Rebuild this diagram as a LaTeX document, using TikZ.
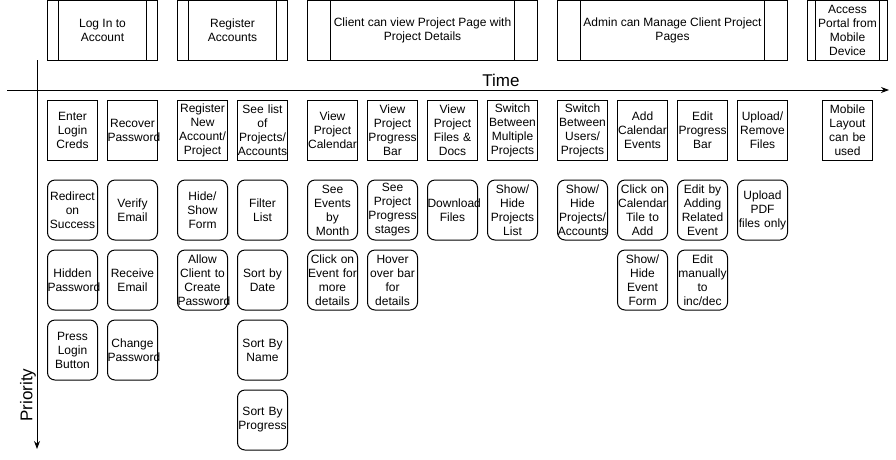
\documentclass[tikz,border=0pt]{standalone}
\usepackage{fontspec}
\setmainfont{Liberation Sans}
\usetikzlibrary{arrows.meta,calc}
\begin{document}
\begin{tikzpicture}[x=1pt,y=-1pt,line width=1pt,
  task/.style={draw, minimum width=50pt, minimum height=60pt, text width=50pt,
    inner sep=0pt, align=center, font=\fontsize{12}{14}\selectfont},
  sub/.style={task, rounded corners=7.5pt},
  feat/.style={draw, minimum height=59.5pt, inner sep=0pt, align=center,
    font=\fontsize{12}{14}\selectfont},
  axis/.style={-{Stealth[length=8pt,width=6pt]}},
  axlabel/.style={font=\fontsize{17}{20}\selectfont, inner sep=0pt}]
\useasboundingbox (0,0) rectangle (896,459);

% feature (process) boxes
\node[feat, minimum width=110pt] (f1) at (102.5,30.25) {Log In to\\Account};
\node[feat, minimum width=110pt] (f2) at (232.5,30.25) {Register\\Accounts};
\node[feat, minimum width=230pt] (f3) at (422.5,30.25) {Client can view Project Page with\\Project Details};
\node[feat, minimum width=230pt] (f4) at (672.5,30.25) {Admin can Manage Client Project\\Pages};
\node[feat, minimum width=80pt] (f5) at (847.5,30.25) {Access\\Portal from\\Mobile\\Device};
\foreach \f in {f1,f2,f3,f4,f5}{
  \draw ($(\f.north west)!0.1!(\f.north east)$) -- ($(\f.south west)!0.1!(\f.south east)$);
  \draw ($(\f.north east)!0.1!(\f.north west)$) -- ($(\f.south east)!0.1!(\f.south west)$);
}

% axes
\coordinate (tl) at (7,90);
\coordinate (tr) at (889,90);
\coordinate (pt) at (37,60);
\coordinate (pb) at (37,449);
\draw[axis] (tl) -- (tr);
\draw[axis] (pt) -- (pb);
\node[axlabel] (time) at (501,80) {Time};
\node[axlabel, rotate=90] (prio) at (28,395) {Priority};

% column 1
\node[task] (a1) at (72.5,130) {Enter\\Login\\Creds};
\node[sub]  (a2) at (72.5,210) {Redirect\\on\\Success};
\node[sub]  (a3) at (72.5,280) {Hidden\\Password};
\node[sub]  (a4) at (72.5,350) {Press\\Login\\Button};
% column 2
\node[task] (b1) at (132.5,130) {Recover\\Password};
\node[sub]  (b2) at (132.5,210) {Verify\\Email};
\node[sub]  (b3) at (132.5,280) {Receive\\Email};
\node[sub]  (b4) at (132.5,350) {Change\\Password};
% column 3
\node[task] (c1) at (202.5,130) {Register\\New\\Account/\\Project};
\node[sub]  (c2) at (202.5,210) {Hide/\\Show\\Form};
\node[sub]  (c3) at (202.5,280) {Allow\\Client to\\Create\\Password};
% column 4
\node[task] (d1) at (262.5,130) {See list\\of\\Projects/\\Accounts};
\node[sub]  (d2) at (262.5,210) {Filter\\List};
\node[sub]  (d3) at (262.5,280) {Sort by\\Date};
\node[sub]  (d4) at (262.5,350) {Sort By\\Name};
\node[sub]  (d5) at (262.5,420) {Sort By\\Progress};
% column 5
\node[task] (e1) at (332.5,130) {View\\Project\\Calendar};
\node[sub]  (e2) at (332.5,210) {See\\Events\\by\\Month};
\node[sub]  (e3) at (332.5,280) {Click on\\Event for\\more\\details};
% column 6
\node[task] (g1) at (392.5,130) {View\\Project\\Progress\\Bar};
\node[sub]  (g2) at (392.5,210) {See\\Project\\Progress\\stages};
\node[sub]  (g3) at (392.5,280) {Hover\\over bar\\for\\details};
% column 7
\node[task] (h1) at (452.5,130) {View\\Project\\Files \&\\Docs};
\node[sub]  (h2) at (452.5,210) {Download\\Files};
% column 8
\node[task] (i1) at (512.5,130) {Switch\\Between\\Multiple\\Projects};
\node[sub]  (i2) at (512.5,210) {Show/\\Hide\\Projects\\List};
% column 9
\node[task] (j1) at (582.5,130) {Switch\\Between\\Users/\\Projects};
\node[sub]  (j2) at (582.5,210) {Show/\\Hide\\Projects/\\Accounts};
% column 10
\node[task] (k1) at (642.5,130) {Add\\Calendar\\Events};
\node[sub]  (k2) at (642.5,210) {Click on\\Calendar\\Tile to\\Add};
\node[sub]  (k3) at (642.5,280) {Show/\\Hide\\Event\\Form};
% column 11
\node[task] (l1) at (702.5,130) {Edit\\Progress\\Bar};
\node[sub]  (l2) at (702.5,210) {Edit by\\Adding\\Related\\Event};
\node[sub]  (l3) at (702.5,280) {Edit\\manually\\to\\inc/dec};
% column 12
\node[task] (m1) at (762.5,130) {Upload/\\Remove\\Files};
\node[sub]  (m2) at (762.5,210) {Upload\\PDF\\files only};
% column 13
\node[task] (n1) at (847.5,130) {Mobile\\Layout\\can be\\used};
\end{tikzpicture}
\end{document}
